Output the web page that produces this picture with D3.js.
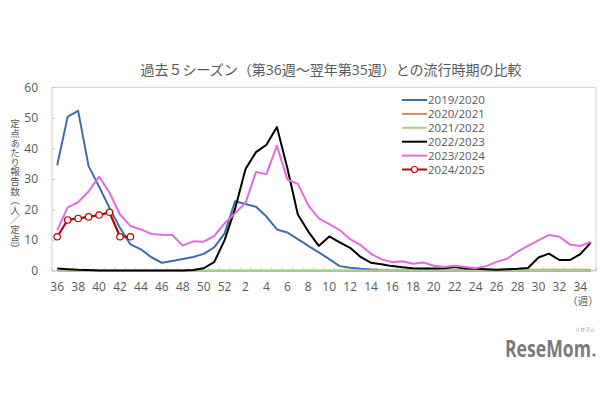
<!DOCTYPE html>
<html><head><meta charset="utf-8">
<script src="https://cdn.jsdelivr.net/npm/d3@7"></script>
<style>
html,body{margin:0;padding:0;background:#fff;}
svg text{font-family:'Open Sans','Noto Sans CJK JP',sans-serif;}
svg text.vlabel{font-family:'Noto Sans CJK JP',sans-serif;writing-mode:vertical-rl;text-orientation:upright;}
</style>
</head><body>
<svg id="chart" width="610" height="400"></svg>
<script>
const weeks = [36,37,38,39,40,41,42,43,44,45,46,47,48,49,50,51,52,1,2,3,4,5,6,7,8,9,10,11,12,13,14,15,16,17,18,19,20,21,22,23,24,25,26,27,28,29,30,31,32,33,34,35];
const yTicks = [0,10,20,30,40,50,60];
const seriesNames = ["2019/2020","2020/2021","2021/2022","2022/2023","2023/2024","2024/2025"];
const seriesColors = ["#3F6DA8","#E38B4F","#A8CF8C","#000000","#E06CE0","#C00000"];

const s2019 = [34.5,50.4,52.3,34.2,27.5,20.5,14.0,8.6,7.0,4.4,2.6,3.2,3.8,4.5,5.5,7.6,12.2,22.7,21.8,20.9,17.7,13.5,12.5,10.3,8.1,6.0,3.8,1.5,1.0,0.6,0.4,0.2,0.1,0.05,0.05,0.05,0.05,0.05,0.05,0.05,0.05,0.05,0.05,0.05,0.05,0.05,0.05,0.05,0.05,0.05,0.05,0.05];
const s2020 = [0.02,0.02,0.02,0.02,0.02,0.02,0.02,0.02,0.02,0.02,0.02,0.02,0.02,0.02,0.02,0.02,0.02,0.02,0.02,0.02,0.02,0.02,0.02,0.02,0.02,0.02,0.02,0.02,0.02,0.02,0.02,0.02,0.02,0.02,0.02,0.02,0.02,0.02,0.02,0.02,0.02,0.02,0.02,0.05,0.1,0.2,0.3,0.3,0.3,0.3,0.3,0.3];
const s2021 = [0.1,0.1,0.1,0.1,0.1,0.1,0.1,0.1,0.1,0.1,0.1,0.1,0.1,0.1,0.1,0.1,0.1,0.1,0.1,0.1,0.1,0.1,0.1,0.1,0.1,0.1,0.1,0.1,0.1,0.1,0.1,0.1,0.1,0.1,0.1,0.1,0.1,0.1,0.1,0.1,0.1,0.1,0.1,0.1,0.1,0.1,0.1,0.1,0.1,0.1,0.1,0.1];
const s2022 = [0.7,0.5,0.3,0.2,0.1,0.1,0.1,0.1,0.1,0.1,0.1,0.1,0.1,0.2,0.8,2.8,10.0,20.3,33.3,38.8,41.2,47.0,33.5,18.4,12.8,8.1,11.2,9.3,7.5,4.5,2.6,2.1,1.5,1.1,0.8,0.7,0.7,0.8,1.2,0.7,0.6,0.5,0.3,0.5,0.6,0.9,4.3,5.6,3.5,3.5,5.4,9.2];
const s2023 = [13.3,20.7,22.4,25.9,30.8,25.5,18.4,14.6,13.5,12.0,11.8,11.7,8.2,9.6,9.5,11.3,15.5,18.8,22.2,32.3,31.6,40.9,29.8,28.4,21.4,17.1,15.2,13.3,10.3,8.4,5.5,3.7,2.8,3.1,2.3,2.7,1.6,1.2,1.6,1.2,0.8,1.5,2.9,3.9,6.2,8.1,9.9,11.7,11.1,8.6,8.1,9.4];
const s2024 = [11.1,16.6,17.1,17.6,18.2,19.1,11.1,11.1];
const yLabel = "定点あたり報告数（人／定点）";

const allSeries = [s2019,s2020,s2021,s2022,s2023,s2024];

const svg = d3.select("#chart");
const L = 52, R = 596, T = 87.3, B = 270.7;
const textColor = "#595959";

const x = d3.scaleBand().domain(weeks.map((w,i)=>i)).range([L,R]).padding(0);
const cx = i => x(i) + x.bandwidth()/2;
const y = d3.scaleLinear().domain([0,60]).range([B,T]);

// Title
svg.append("text").attr("x",331).attr("y",75).attr("text-anchor","middle")
  .attr("font-size",14).attr("fill",textColor)
  .text("過去５シーズン（第36週～翌年第35週）との流行時期の比較");

// plot border
svg.append("rect").attr("x",L).attr("y",T).attr("width",R-L).attr("height",B-T)
  .attr("fill","none").attr("stroke","#d0d0d0").attr("stroke-width",1);

// y axis
const yAxis = d3.axisLeft(y).tickValues(yTicks).tickSize(-3).tickPadding(14);
const gy = svg.append("g").attr("transform",`translate(${L},0)`).call(yAxis);
gy.select(".domain").remove();
gy.selectAll(".tick line").attr("stroke","#c8c8c8");
gy.selectAll("text").attr("font-size",12).attr("fill",textColor).attr("font-family","'Open Sans',sans-serif");

// x ticks at band boundaries (inside, pointing up)
const boundaries = weeks.map((w,i)=>x(i)).concat([R]);
svg.append("g").selectAll("line").data(boundaries).join("line")
  .attr("x1",d=>d).attr("x2",d=>d).attr("y1",B).attr("y2",B-3)
  .attr("stroke","#c8c8c8").attr("stroke-width",1);
svg.append("line").attr("x1",L).attr("x2",R).attr("y1",B).attr("y2",B).attr("stroke","#c8c8c8");

// x labels
svg.append("g").selectAll("text").data(weeks.map((w,i)=>({w,i})).filter(d=>d.w%2===0)).join("text")
  .attr("x",d=>cx(d.i)).attr("y",291).attr("text-anchor","middle")
  .attr("font-size",12).attr("fill",textColor).text(d=>d.w);
svg.append("text").attr("x",583).attr("y",305).attr("text-anchor","middle")
  .attr("font-size",10.5).attr("fill",textColor).text("（週）");

// y label vertical
svg.append("text").attr("class","vlabel").attr("x",15).attr("y",119)
  .attr("font-size",9.6).attr("fill",textColor).text(yLabel);

// lines
const line = d3.line().x((d,i)=>cx(i)).y(d=>y(d));
allSeries.forEach((s,k)=>{
  svg.append("path").datum(s).attr("d",line).attr("fill","none")
    .attr("stroke",seriesColors[k]).attr("stroke-width",k===5?2.2:2)
    .attr("stroke-linejoin","round");
});
svg.append("g").selectAll("circle").data(s2024).join("circle")
  .attr("cx",(d,i)=>cx(i)).attr("cy",d=>y(d)).attr("r",3.2)
  .attr("fill","#fff").attr("stroke","#C00000").attr("stroke-width",1.2);

// legend
const lg = svg.append("g");
seriesNames.forEach((n,k)=>{
  const ly = 100 + k*13.9;
  lg.append("line").attr("x1",402).attr("x2",427).attr("y1",ly).attr("y2",ly)
    .attr("stroke",seriesColors[k]).attr("stroke-width",2);
  if(k===5){
    lg.append("circle").attr("cx",414.5).attr("cy",ly).attr("r",3)
      .attr("fill","#fff").attr("stroke","#C00000").attr("stroke-width",1.1);
  }
  lg.append("text").attr("x",428).attr("y",ly+4).attr("font-size",11.5)
    .attr("fill",textColor).text(n);
});

// logo
const logo = svg.append("text").attr("x",0).attr("y",0).attr("font-size",23).attr("font-weight","bold")
  .attr("fill","#7a7a7a").attr("font-family","'Open Sans',sans-serif").text("ReseMom");
const lw = logo.node().getComputedTextLength();
logo.attr("transform",`translate(505,357) scale(${86/lw},1)`);
svg.append("circle").attr("cx",594).attr("cy",355).attr("r",1.6).attr("fill","#7a7a7a");
svg.append("text").attr("x",585).attr("y",331).attr("font-size",5).attr("text-anchor","middle")
  .attr("fill","#8a8a8a").text("リセマム");
</script>
</body></html>
